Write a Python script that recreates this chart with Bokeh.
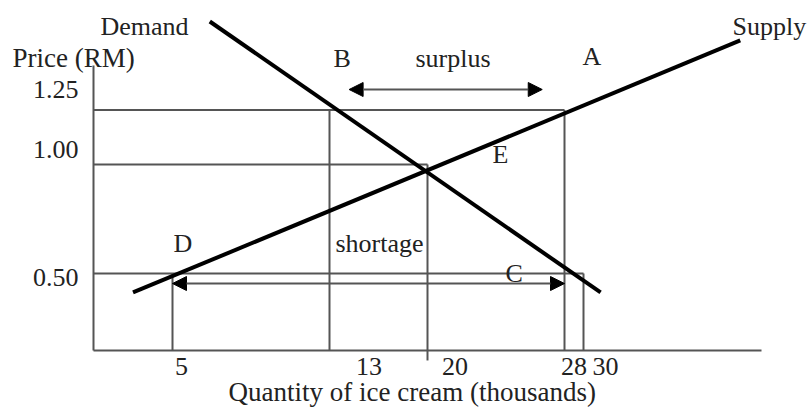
import numpy as np
from bokeh.plotting import figure
from bokeh.models import Range1d, Arrow, NormalHead
from bokeh.core.properties import value
from bokeh.embed import file_html
from bokeh.resources import INLINE

# ---------------- data ----------------
quantity_ticks = [5, 13, 20, 28, 30]          # thousands
price_tick_labels = ["1.25", "1.00", "0.50"]  # RM
price_levels = [1.25, 1.00, 0.50]
qty_demanded = [13, 20, 30]                   # at each price level
qty_supplied = [28, 20, 5]
equilibrium_q = 20
demand_q = [6.9, 31.8]
demand_p = [1.656, 0.413]
supply_q = [2.5, 46.5]
supply_p = [0.413, 1.569]
surplus_q = [14.4, 26.7]
surplus_p = 1.344
shortage_q = [5.0, 28.0]
shortage_p = 0.454

# ---------------- layout (schematic quantity axis) ----------------
SCHEME_Q = [0, 5, 13, 20, 28, 30, 50]
SCHEME_X = [0, 79, 236, 334, 471, 490, 680]


def sx(q):
    return np.interp(q, SCHEME_Q, SCHEME_X)


X_MIN, X_MAX = -93, 716
P_MIN, P_MAX = -0.1147, 1.7523
AXIS_P = 0.1468       # price at the quantity axis
AXIS_TOP = 1.454      # top of the price axis
AXIS_END = 668        # right end of the quantity axis
TICK_P = 0.101
x_label_pos = [88, 275.5, 361.5, 480.5, 512]
x_label_base = 0.032
y_label_x = -15
y_label_base = [1.303, 1.028, 0.440]
TEXT_DY = -9

FONT = "Liberation Serif"
TXT = "#222222"
GRAY = "#555555"

p = figure(width=809, height=407, output_backend="svg", toolbar_location=None,
           x_range=Range1d(X_MIN, X_MAX), y_range=Range1d(P_MIN, P_MAX),
           min_border=0)
p.outline_line_color = None
p.grid.visible = False
p.axis.visible = False
p.background_fill_color = "white"

# axes lines
p.segment(x0=[0, 0], y0=[AXIS_P, AXIS_P], x1=[0, AXIS_END], y1=[AXIS_TOP, AXIS_P],
          line_color=GRAY, line_width=2)

# guide lines
hx0, hy0, hx1, hy1 = [], [], [], []
vx0, vy0, vx1, vy1 = [], [], [], []
for pr, qd, qs in zip(price_levels, qty_demanded, qty_supplied):
    hx0.append(0); hy0.append(pr); hx1.append(float(sx(max(qd, qs)))); hy1.append(pr)
    for q in sorted(set([qd, qs])):
        bottom = TICK_P if q == equilibrium_q else AXIS_P
        vx0.append(float(sx(q))); vy0.append(pr); vx1.append(float(sx(q))); vy1.append(bottom)
p.segment(x0=hx0, y0=hy0, x1=hx1, y1=hy1, line_color=GRAY, line_width=2)
p.segment(x0=vx0, y0=vy0, x1=vx1, y1=vy1, line_color=GRAY, line_width=2)

# demand and supply
p.line(x=sx(demand_q), y=demand_p, line_color="black", line_width=4)
p.line(x=sx(supply_q), y=supply_p, line_color="black", line_width=4)

# arrows
for qs_, pr in [(surplus_q, surplus_p), (shortage_q, shortage_p)]:
    p.add_layout(Arrow(
        start=NormalHead(size=14, fill_color="black", line_color="black"),
        end=NormalHead(size=14, fill_color="black", line_color="black"),
        x_start=float(sx(qs_[0])), y_start=pr, x_end=float(sx(qs_[1])), y_end=pr,
        line_color=GRAY, line_width=2))

# tick labels
p.text(x=x_label_pos, y=[x_label_base] * len(quantity_ticks),
       text=[str(q) for q in quantity_ticks], text_font=value(FONT),
       text_font_size="26px", text_color=TXT, text_align="center",
       text_baseline="alphabetic", y_offset=TEXT_DY)
p.text(x=[y_label_x] * len(price_tick_labels), y=y_label_base,
       text=price_tick_labels, text_font=value(FONT),
       text_font_size="26px", text_color=TXT, text_align="right",
       text_baseline="alphabetic", y_offset=TEXT_DY)

# text labels (left x, baseline y)
labels_26 = [
    ("Demand", 7, 1.592),
    ("Supply", 639, 1.592),
    ("B", 240, 1.445),
    ("surplus", 322, 1.445),
    ("A", 489, 1.454),
    ("D", 80, 0.596),
    ("E", 399, 1.005),
    ("shortage", 242, 0.596),
    ("C", 412, 0.459),
]
labels_27 = [
    ("Price (RM)", -81, 1.445),
    ("Quantity of ice cream (thousands)", 135, -0.087),
]
for labs, fs in [(labels_26, "26px"), (labels_27, "27px")]:
    p.text(x=[l[1] for l in labs], y=[l[2] for l in labs], text=[l[0] for l in labs],
           text_font=value(FONT), text_font_size=fs, text_color=TXT,
           text_align="left", text_baseline="alphabetic", y_offset=TEXT_DY)

open("out.html", "w").write(file_html(p, INLINE))
